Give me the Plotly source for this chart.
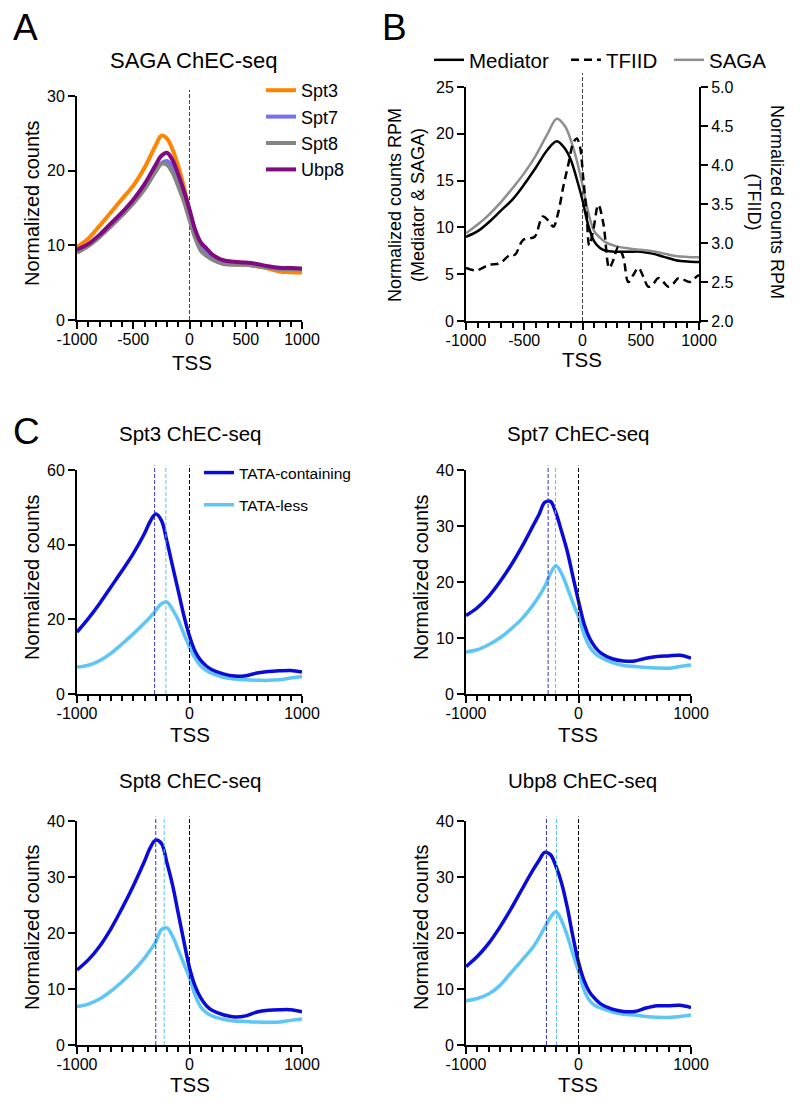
import plotly.graph_objects as go

W, H = 800, 1106
OFF = 8  # page body margin: the figure is drawn 8 px right/down from the window corner
FONT = "Liberation Sans, Arial, sans-serif"

# ── Panel A: SAGA subunits ChEC-seq (normalized counts vs distance to TSS) ──
TSS_A = [-1000, -900, -800, -700, -600, -500, -400, -300, -250, -200, -150, -100, -50,
         0, 50, 100, 150, 200, 300, 400, 500, 600, 700, 800, 900, 1000]
SPT3_A = [9.8, 10.9, 12.6, 14.4, 16.2, 18.0, 20.4, 23.4, 24.7, 24.3, 22.8, 20.6, 17.8,
          14.6, 11.8, 10.0, 9.0, 8.3, 7.7, 7.45, 7.4, 7.2, 6.9, 6.5, 6.4, 6.35]
SPT7_A = [9.15, 10.0, 11.2, 12.6, 14.1, 15.7, 17.7, 20.0, 21.0, 21.3, 20.4, 18.6, 16.6,
          14.0, 11.6, 9.7, 8.9, 8.4, 7.8, 7.65, 7.6, 7.4, 7.1, 6.9, 6.85, 6.8]
SPT8_A = [9.0, 9.9, 11.1, 12.5, 14.0, 15.6, 17.5, 19.9, 20.9, 20.8, 19.7, 17.9, 15.9,
          13.4, 11.0, 9.3, 8.6, 8.1, 7.5, 7.4, 7.4, 7.2, 7.0, 6.8, 6.8, 6.75]
UBP8_A = [9.4, 10.2, 11.4, 12.9, 14.4, 16.1, 18.2, 20.8, 22.0, 22.4, 21.4, 19.5, 17.3,
          14.8, 12.1, 10.4, 9.6, 8.8, 8.0, 7.8, 7.7, 7.5, 7.2, 7.0, 6.95, 6.9]

# ── Panel B: Mediator / SAGA (left axis) and TFIID (right axis) ──
TSS_B = [-1000, -900, -800, -700, -600, -500, -400, -300, -220, -150, -100, -50,
         0, 50, 100, 150, 200, 300, 400, 500, 600, 700, 800, 900, 1000]
MEDIATOR_B = [9.0, 9.6, 10.6, 11.8, 13.0, 14.6, 16.4, 18.3, 19.2, 18.4, 17.2, 15.2,
              12.9, 10.2, 8.5, 7.8, 7.5, 7.4, 7.4, 7.4, 7.2, 6.85, 6.5, 6.35, 6.3]
SAGA_B = [9.37, 10.3, 11.4, 12.7, 14.2, 15.8, 17.7, 20.0, 21.6, 20.8, 19.3, 17.2,
          14.5, 11.6, 9.6, 8.9, 8.4, 7.95, 7.75, 7.6, 7.45, 7.2, 6.95, 6.85, 6.8]
TSS_TFIID = [-1000, -910, -800, -710, -620, -580, -510, -450, -410, -340, -295, -250,
             -210, -165, -120, -80, -50, -20, 5, 35, 58, 93, 136, 179, 230, 264, 307,
             350, 393, 436, 479, 522, 565, 608, 651, 694, 737, 780, 823, 866, 923, 980, 1000]
TFIID_B = [2.68, 2.65, 2.72, 2.74, 2.85, 2.85, 3.04, 3.06, 3.08, 3.34, 3.29, 3.21,
           3.38, 3.72, 4.02, 4.28, 4.34, 4.22, 3.85, 3.38, 2.97, 3.17, 3.49, 3.25,
           2.68, 2.78, 2.95, 2.82, 2.50, 2.59, 2.68, 2.57, 2.44, 2.48, 2.55, 2.50,
           2.44, 2.48, 2.55, 2.53, 2.50, 2.57, 2.59]

# ── Panel C: TATA-containing vs TATA-less promoters ──
TSS_C = [-1000, -900, -800, -700, -600, -500, -400, -350, -300, -250, -200, -150, -100,
         -50, 0, 50, 100, 150, 200, 300, 400, 500, 600, 700, 800, 900, 1000]
SPT3_TATA = [16.6, 20.2, 24.2, 28.6, 33.0, 37.6, 43.0, 46.2, 48.2, 46.5, 40.8, 34.2, 27.6,
             21.0, 15.5, 11.4, 9.0, 7.5, 6.5, 5.4, 4.8, 4.9, 5.6, 6.0, 6.2, 6.3, 5.9]
SPT3_LESS = [7.2, 7.7, 8.9, 10.9, 13.4, 16.1, 19.0, 20.6, 22.4, 24.2, 24.6, 22.6, 19.8,
             16.1, 12.6, 9.6, 7.5, 6.3, 5.5, 4.5, 4.0, 3.8, 3.7, 3.65, 3.8, 4.3, 4.7]
SPT7_TATA = [14.0, 15.4, 17.4, 20.0, 23.0, 26.4, 30.2, 32.1, 34.2, 34.4, 32.3, 29.0, 25.5,
             21.0, 16.6, 12.5, 9.9, 8.3, 7.3, 6.3, 5.9, 5.9, 6.4, 6.7, 6.8, 6.9, 6.4]
SPT7_LESS = [7.5, 7.9, 8.8, 10.0, 11.6, 13.5, 16.0, 17.5, 19.2, 21.5, 22.9, 21.5, 19.0,
             16.3, 13.8, 10.6, 8.4, 7.2, 6.5, 5.6, 5.1, 4.9, 4.75, 4.65, 4.6, 4.9, 5.2]
SPT8_TATA = [13.4, 15.2, 17.6, 20.7, 24.4, 28.4, 32.8, 35.2, 36.6, 36.0, 32.5, 28.5, 23.5,
             18.5, 13.8, 10.5, 8.4, 7.0, 6.2, 5.4, 5.0, 5.2, 5.9, 6.2, 6.3, 6.3, 5.95]
SPT8_LESS = [6.85, 7.3, 8.2, 9.6, 11.3, 13.2, 15.5, 16.9, 18.4, 20.6, 20.9, 19.4, 17.0,
             14.5, 12.0, 8.9, 6.8, 5.8, 5.2, 4.6, 4.3, 4.2, 4.1, 4.05, 4.1, 4.4, 4.65]
UBP8_TATA = [14.0, 15.8, 18.1, 21.0, 24.3, 27.9, 31.4, 33.0, 34.4, 34.0, 31.9, 28.9, 24.6,
             19.4, 14.8, 11.5, 9.4, 8.2, 7.3, 6.4, 6.0, 6.0, 6.6, 7.0, 7.0, 7.1, 6.7]
UBP8_LESS = [7.9, 8.3, 9.1, 10.6, 12.9, 15.2, 17.6, 19.2, 21.0, 22.8, 23.8, 22.2, 19.5,
             16.3, 13.2, 9.8, 7.9, 7.0, 6.6, 5.9, 5.5, 5.35, 5.1, 4.95, 4.9, 5.1, 5.36]
PEAKS_TATA = [-310, -270, -300, -285]   # Spt3, Spt7, Spt8, Ubp8
PEAKS_LESS = [-210, -205, -225, -195]

COLORS = {
    "Spt3": "#FF8400",
    "Spt7": "#7570F2",
    "Spt8": "#858585",
    "Ubp8": "#800A80",
    "Mediator": "#000000",
    "SAGA": "#8E8E8E",
    "TATA": "#0B0BD9",
    "LESS": "#5EC6F4",
    "TATA_v": "#3535B5",
    "LESS_v": "#55C2F0",
}


def px_x(x):
    return (x - OFF) / W


def px_y(y):
    return 1 - (y - OFF) / H


def dom_x(a, b):
    return [px_x(a), px_x(b)]


def dom_y(top, bottom):
    return [px_y(bottom), px_y(top)]


def x_axis(domain, anchor, labels):
    return dict(
        domain=domain, anchor=anchor, range=[-1000, 1000],
        showline=True, linecolor="black", linewidth=2,
        ticks="outside", ticklen=7, tickwidth=2, tickcolor="black",
        ticklabelstandoff=-3,
        tickmode="array", tickvals=labels, ticktext=[str(v) for v in labels],
        minor=dict(tickmode="linear", tick0=-1000, dtick=100, ticks="outside",
                   ticklen=5, tickwidth=2, tickcolor="black"),
        showgrid=False, zeroline=False,
        tickfont=dict(size=16, color="black"),
    )


def y_axis(domain, anchor, vals, fmt="{:g}", side="left", overlaying=None):
    ax = dict(
        domain=domain, anchor=anchor, range=[vals[0], vals[-1]],
        showline=True, linecolor="black", linewidth=2,
        ticks="outside", ticklen=7, tickwidth=2, tickcolor="black",
        tickmode="array", tickvals=vals, ticktext=[fmt.format(v) for v in vals],
        showgrid=False, zeroline=False, side=side,
        tickfont=dict(size=16, color="black"),
    )
    if overlaying:
        ax["overlaying"] = overlaying
    return ax


def ann(text, x, y, size, angle=0):
    return dict(text=text, x=px_x(x), y=px_y(y), xref="paper", yref="paper",
                showarrow=False, textangle=angle, xanchor="center", yanchor="middle",
                font=dict(size=size, color="black", family=FONT))


fig = go.Figure()

# Panel A
for name, vals in [("Spt3", SPT3_A), ("Spt7", SPT7_A), ("Spt8", SPT8_A), ("Ubp8", UBP8_A)]:
    fig.add_trace(go.Scatter(
        x=TSS_A, y=vals, mode="lines", name=name, line_shape="spline",
        line=dict(color=COLORS[name], width=4),
        xaxis="x", yaxis="y", legend="legend", legendgroup="a" + name,
    ))

# Panel B
fig.add_trace(go.Scatter(
    x=TSS_B, y=MEDIATOR_B, mode="lines", name="Mediator", line_shape="spline",
    line=dict(color=COLORS["Mediator"], width=2.5), xaxis="x2", yaxis="y2",
    legend="legend2", legendwidth=92,
))
fig.add_trace(go.Scatter(
    x=TSS_TFIID, y=TFIID_B, mode="lines", name="TFIID", line_shape="spline",
    line=dict(color="black", width=2.5, dash="8px,5px"), xaxis="x2", yaxis="y3",
    legend="legend2", legendwidth=58,
))
fig.add_trace(go.Scatter(
    x=TSS_B, y=SAGA_B, mode="lines", name="SAGA", line_shape="spline",
    line=dict(color=COLORS["SAGA"], width=2.5), xaxis="x2", yaxis="y2",
    legend="legend2", legendwidth=60,
))

# Panel C
c_panels = [
    ("Spt3", SPT3_TATA, SPT3_LESS, "4"),
    ("Spt7", SPT7_TATA, SPT7_LESS, "5"),
    ("Spt8", SPT8_TATA, SPT8_LESS, "6"),
    ("Ubp8", UBP8_TATA, UBP8_LESS, "7"),
]
for i, (name, tata, less, k) in enumerate(c_panels):
    first = i == 0
    fig.add_trace(go.Scatter(
        x=TSS_C, y=less, mode="lines", name="TATA-less", line_shape="spline",
        line=dict(color=COLORS["LESS"], width=3.5), xaxis="x" + k, yaxis="y" + k,
        legend="legend3", legendgroup="cless", showlegend=first, legendrank=2,
    ))
    fig.add_trace(go.Scatter(
        x=TSS_C, y=tata, mode="lines", name="TATA-containing", line_shape="spline",
        line=dict(color=COLORS["TATA"], width=3.5), xaxis="x" + k, yaxis="y" + k,
        legend="legend3", legendgroup="ctata", showlegend=first, legendrank=1,
    ))
    fig.add_shape(type="line", xref="x" + k, yref="y" + k + " domain",
                  x0=PEAKS_TATA[i], x1=PEAKS_TATA[i], y0=0, y1=1.02,
                  line=dict(color=COLORS["TATA_v"], width=1, dash="4px,2px"))
    fig.add_shape(type="line", xref="x" + k, yref="y" + k + " domain",
                  x0=PEAKS_LESS[i], x1=PEAKS_LESS[i], y0=0, y1=1.02,
                  line=dict(color=COLORS["LESS_v"], width=1, dash="4px,2px"))
    fig.add_shape(type="line", xref="x" + k, yref="y" + k + " domain",
                  x0=0, x1=0, y0=0, y1=1.02,
                  line=dict(color="black", width=1, dash="4px,2px"))

# TSS reference lines in A and B
fig.add_shape(type="line", xref="x", yref="y domain", x0=0, x1=0, y0=0, y1=1.027,
              line=dict(color="#444444", width=1, dash="4px,2px"), layer="below")
fig.add_shape(type="line", xref="x2", yref="y2 domain", x0=0, x1=0, y0=0, y1=1.06,
              line=dict(color="#444444", width=1, dash="4px,2px"), layer="below")

ab_ticks = [-1000, -500, 0, 500, 1000]
c_ticks = [-1000, 0, 1000]

fig.update_layout(
    width=W, height=H, autosize=False,
    margin=dict(l=0, r=0, t=0, b=0, autoexpand=False),
    paper_bgcolor="white", plot_bgcolor="white",
    font=dict(family=FONT, color="black"),
    xaxis=x_axis(dom_x(77, 302), "y", ab_ticks),
    yaxis=y_axis(dom_y(96, 320), "x", [0, 10, 20, 30]),
    xaxis2=x_axis(dom_x(466, 699), "y2", ab_ticks),
    yaxis2=y_axis(dom_y(87, 321), "x2", [0, 5, 10, 15, 20, 25]),
    yaxis3=y_axis(dom_y(87, 321), "x2", [2.0, 2.5, 3.0, 3.5, 4.0, 4.5, 5.0],
                  fmt="{:.1f}", side="right", overlaying="y2"),
    xaxis4=x_axis(dom_x(77, 302), "y4", c_ticks),
    yaxis4=y_axis(dom_y(470, 694), "x4", [0, 20, 40, 60]),
    xaxis5=x_axis(dom_x(466, 691), "y5", c_ticks),
    yaxis5=y_axis(dom_y(470, 694), "x5", [0, 10, 20, 30, 40]),
    xaxis6=x_axis(dom_x(77, 302), "y6", c_ticks),
    yaxis6=y_axis(dom_y(821, 1045), "x6", [0, 10, 20, 30, 40]),
    xaxis7=x_axis(dom_x(466, 691), "y7", c_ticks),
    yaxis7=y_axis(dom_y(821, 1045), "x7", [0, 10, 20, 30, 40]),
    legend=dict(x=px_x(261), y=px_y(72), xanchor="left", yanchor="top",
                bgcolor="rgba(0,0,0,0)", font=dict(size=18, color="black"),
                tracegroupgap=0, traceorder="grouped"),
    legend2=dict(x=px_x(429), y=px_y(40), xanchor="left", yanchor="top",
                 orientation="h", bgcolor="rgba(0,0,0,0)",
                 font=dict(size=20.5, color="black")),
    legend3=dict(x=px_x(199), y=px_y(456), xanchor="left", yanchor="top",
                 bgcolor="rgba(0,0,0,0)", font=dict(size=15.5, color="black"),
                 tracegroupgap=9, traceorder="grouped"),
    annotations=[
        ann("A", 25, 28, 37), ann("B", 394, 28, 37), ann("C", 26, 431, 37),
        ann("SAGA ChEC-seq", 194, 61, 22),
        ann("Spt3 ChEC-seq", 190, 434, 20.5), ann("Spt7 ChEC-seq", 578, 434, 20.5),
        ann("Spt8 ChEC-seq", 190, 780, 20.5), ann("Ubp8 ChEC-seq", 582, 780, 20.5),
        ann("TSS", 192, 362, 20.5), ann("TSS", 582, 359, 20.5),
        ann("TSS", 190, 734, 20.5), ann("TSS", 578, 734, 20.5),
        ann("TSS", 190, 1084, 20.5), ann("TSS", 578, 1084, 20.5),
        ann("Normalized counts", 32, 203, 20, -90),
        ann("Normalized counts", 32, 577, 20, -90),
        ann("Normalized counts", 421, 577, 20, -90),
        ann("Normalized counts", 32, 927, 20, -90),
        ann("Normalized counts", 421, 927, 20, -90),
        ann("Normalized counts RPM<br>(Mediator & SAGA)", 407, 205, 18, -90),
        ann("Normalized counts RPM<br>(TFIID)", 766, 202, 18, 90),
    ],
)

fig.write_html("out.html")
